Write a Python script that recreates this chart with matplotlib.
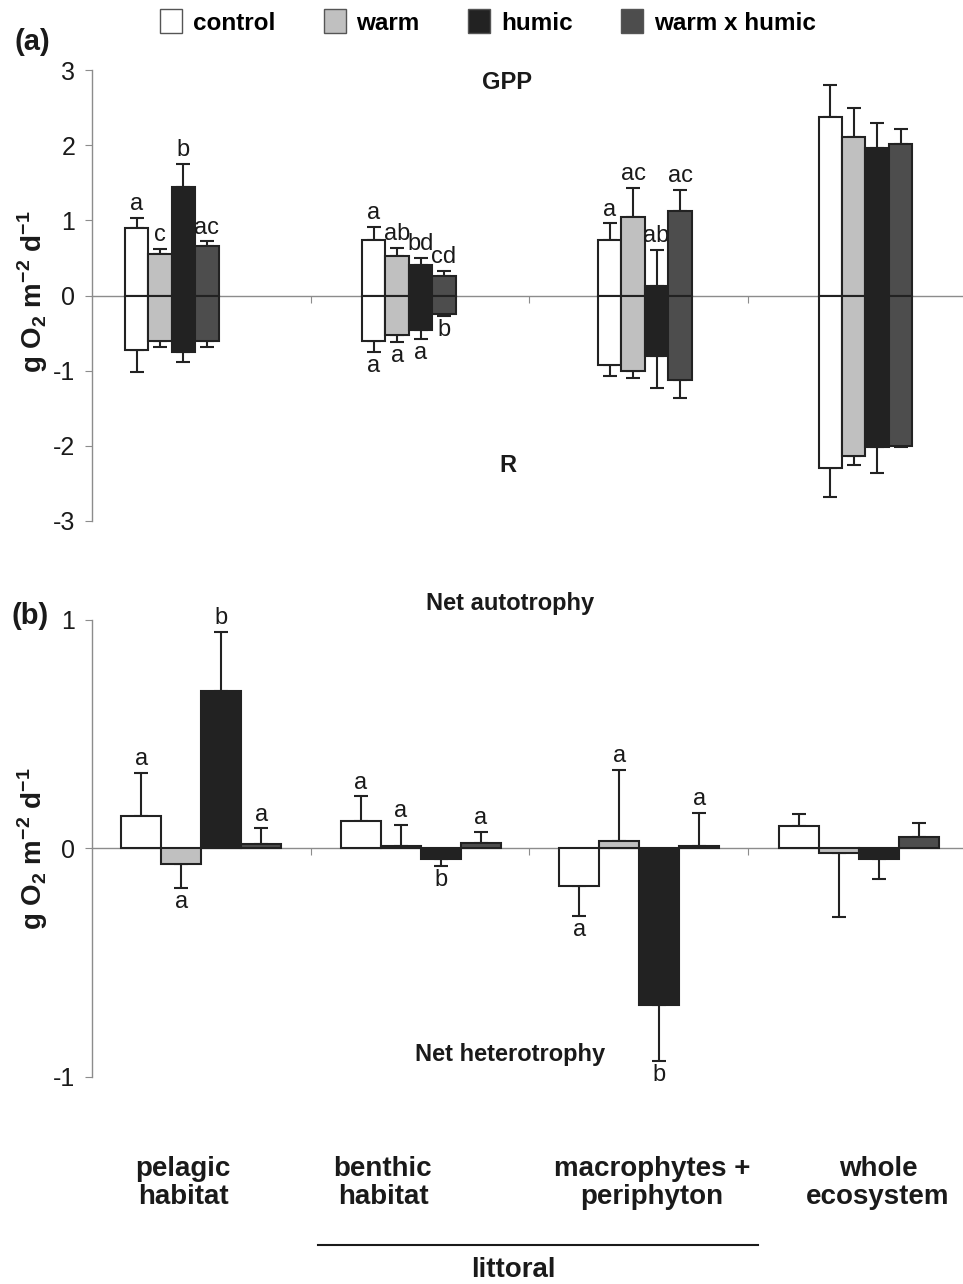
import matplotlib
matplotlib.use('Agg')
import matplotlib.pyplot as plt
from matplotlib.patches import Patch
from matplotlib.lines import Line2D
import numpy as np

plt.rcParams['font.family'] = ['Liberation Sans', 'DejaVu Sans']
plt.rcParams['mathtext.fontset'] = 'custom'
plt.rcParams['mathtext.rm'] = 'Liberation Sans'
plt.rcParams['mathtext.bf'] = 'Liberation Sans:bold'

categories = ['pelagic\nhabitat', 'benthic\nhabitat', 'macrophytes +\nperiphyton', 'whole\necosystem']
treatments = ['control', 'warm', 'humic', 'warm x humic']
colors = ['#ffffff', '#c0c0c0', '#222222', '#4d4d4d']

# Panel (a): GPP (positive) and R (negative); rows = categories, cols = treatments
gpp = [[0.90, 0.55, 1.45, 0.66],
       [0.74, 0.52, 0.41, 0.26],
       [0.74, 1.04, 0.12, 1.13],
       [2.37, 2.11, 1.96, 2.02]]
gpp_se = [[0.13, 0.07, 0.30, 0.06],
          [0.17, 0.11, 0.09, 0.07],
          [0.22, 0.39, 0.49, 0.28],
          [0.43, 0.39, 0.33, 0.19]]
resp = [[-0.72, -0.60, -0.75, -0.61],
        [-0.60, -0.52, -0.46, -0.24],
        [-0.925, -1.00, -0.80, -1.12],
        [-2.29, -2.14, -2.02, -2.00]]
resp_se = [[0.30, 0.09, 0.14, 0.08],
           [0.155, 0.10, 0.12, 0.03],
           [0.15, 0.10, 0.43, 0.24],
           [0.39, 0.11, 0.34, 0.02]]
gpp_letters = [['a', 'c', 'b', 'ac'],
               ['a', 'ab', 'bd', 'cd'],
               ['a', 'ac', 'ab', 'ac'],
               ['', '', '', '']]
resp_letters = [['', '', '', ''],
                ['a', 'a', 'a', 'b'],
                ['', '', '', ''],
                ['', '', '', '']]

# Panel (b): net ecosystem production
net = [[0.141, -0.067, 0.69, 0.02],
       [0.121, 0.012, -0.044, 0.026],
       [-0.165, 0.035, -0.686, 0.012],
       [0.10, -0.02, -0.047, 0.05]]
net_se = [[0.19, 0.107, 0.258, 0.068],
          [0.107, 0.093, 0.032, 0.047],
          [0.131, 0.308, 0.244, 0.144],
          [0.05, 0.28, 0.085, 0.06]]
net_letters = [['a', 'a', 'b', 'a'],
               ['a', 'a', 'b', 'a'],
               ['a', 'a', 'b', 'a'],
               ['', '', '', '']]

W, H = 963, 1284
fig = plt.figure(figsize=(W / 100, H / 100), dpi=100)

def fx(px):
    return px / W

def fy(py):
    return 1 - py / H

AX_L = 92
CAT_W = 218.5
ax_a = fig.add_axes([fx(AX_L), fy(521), fx(W - AX_L), 451 / H])
ax_b = fig.add_axes([fx(AX_L), fy(1077), fx(W - AX_L), 457 / H])

edge = '#222222'
gray = '#8c8c8c'

def style(ax, ylim, yticks):
    ax.set_xlim(0, (W - AX_L) / CAT_W)
    ax.set_ylim(*ylim)
    ax.set_yticks(yticks)
    ax.set_yticklabels([str(t) for t in yticks])
    for s in ['top', 'right']:
        ax.spines[s].set_visible(False)
    ax.spines['left'].set_color(gray)
    ax.spines['left'].set_linewidth(1.0)
    ax.spines['bottom'].set_position(('data', 0))
    ax.spines['bottom'].set_color(gray)
    ax.spines['bottom'].set_linewidth(1.0)
    ax.set_xticks([1, 2, 3])
    ax.set_xticklabels([])
    ax.tick_params(axis='x', direction='out', length=5, color=gray)
    ax.tick_params(axis='y', direction='out', length=5, color=gray,
                   labelsize=18, pad=7, labelcolor='#1a1a1a')

def draw_bars(ax, centers, width, vals, ses, letters, fs=17):
    for g, c in enumerate(centers):
        for i in range(4):
            x = c + (i - 1.5) * width
            v = vals[g][i]
            se = ses[g][i]
            ax.bar(x, v, width=width, color=colors[i], edgecolor=edge,
                   linewidth=1.5, zorder=3)
            if v >= 0:
                yerr = [[0], [se]]
            else:
                yerr = [[se], [0]]
            ax.errorbar(x, v, yerr=yerr, fmt='none', ecolor=edge,
                        elinewidth=1.5, capsize=5, capthick=1.5, zorder=2)
            lab = letters[g][i]
            if lab:
                tip = v + se if v >= 0 else v - se
                ax.annotate(lab, (x, tip), xytext=(0, 2 if v >= 0 else -2),
                            textcoords='offset points', ha='center',
                            va='bottom' if v >= 0 else 'top', fontsize=fs,
                            color='#1a1a1a')

# Panel (a)
style(ax_a, (-3, 3), [3, 2, 1, 0, -1, -2, -3])
centers_a = [0.365, 1.45, 2.53, 3.54]
width_a = 0.1075
draw_bars(ax_a, centers_a, width_a, gpp, gpp_se, gpp_letters)
draw_bars(ax_a, centers_a, width_a, resp, resp_se, resp_letters)
ax_a.text(0.477, 0.973, 'GPP', transform=ax_a.transAxes, ha='center',
          va='center', fontsize=17, fontweight='bold', color='#1a1a1a')
ax_a.text(0.477, 0.124, 'R', transform=ax_a.transAxes, ha='center',
          va='center', fontsize=17, fontweight='bold', color='#1a1a1a')

# Panel (b)
style(ax_b, (-1, 1), [1, 0, -1])
centers_b = [0.5, 1.505, 2.505, 3.51]
width_b = 0.183
draw_bars(ax_b, centers_b, width_b, net, net_se, net_letters)
ax_b.text(0.48, 1.037, 'Net autotrophy', transform=ax_b.transAxes,
          ha='center', va='center', fontsize=17, fontweight='bold',
          color='#1a1a1a')
ax_b.text(0.48, 0.05, 'Net heterotrophy', transform=ax_b.transAxes,
          ha='center', va='center', fontsize=17, fontweight='bold',
          color='#1a1a1a')

# y labels
ylab = r'g O$_\mathbf{2}$ m$^\mathbf{-2}$ d$^\mathbf{-1}$'
fig.text(fx(33), fy(292), ylab, rotation=90, ha='center', va='center',
         fontsize=20, fontweight='bold', color='#1a1a1a')
fig.text(fx(33), fy(849), ylab, rotation=90, ha='center', va='center',
         fontsize=20, fontweight='bold', color='#1a1a1a')

# panel letters
fig.text(fx(14), fy(42), '(a)', ha='left', va='center', fontsize=21,
         fontweight='bold', color='#1a1a1a')
fig.text(fx(11), fy(616), '(b)', ha='left', va='center', fontsize=21,
         fontweight='bold', color='#1a1a1a')

# category labels
cat_x = [183, 383, 652, 878]
for cx, lab in zip(cat_x, categories):
    fig.text(fx(cx), fy(1183), lab, ha='center', va='center', fontsize=20,
             fontweight='bold', linespacing=1.15, color='#1a1a1a')

fig.add_artist(Line2D([fx(318), fx(758)], [fy(1245), fy(1245)],
                      transform=fig.transFigure, color='#1a1a1a', lw=1.5))
fig.text(fx(513), fy(1270), 'littoral', ha='center', va='center',
         fontsize=20, fontweight='bold', color='#1a1a1a')

# legend
handles = [Patch(facecolor=c, edgecolor='#555555', linewidth=1.0) for c in colors]
fig.legend(handles, treatments, loc='center', bbox_to_anchor=(fx(488), fy(22)),
           ncol=4, frameon=False, prop={'size': 17.5, 'weight': 'bold'},
           handlelength=0.9, handleheight=1.15, columnspacing=2.0,
           handletextpad=0.45)

fig.savefig('out.png', dpi=100)
